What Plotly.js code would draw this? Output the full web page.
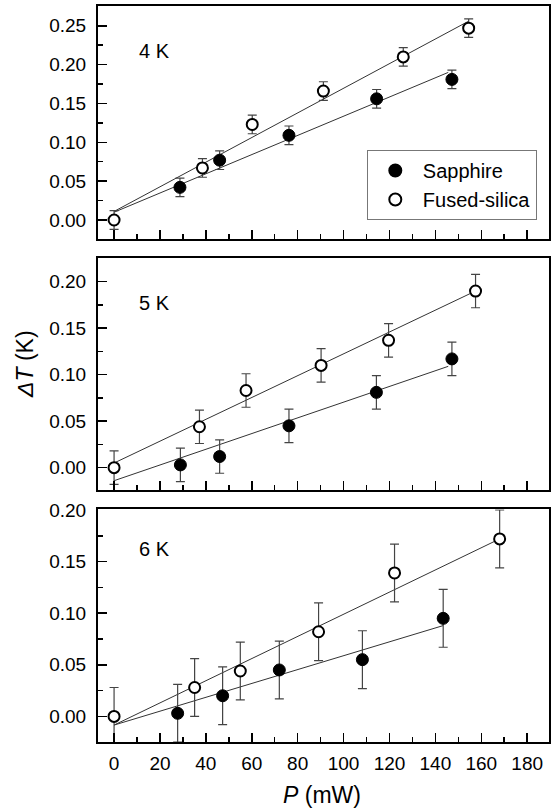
<!DOCTYPE html>
<html>
<head>
<meta charset="utf-8">
<script src="https://cdn.plot.ly/plotly-3.0.1.min.js"></script>
<style>html,body{margin:0;padding:0;background:#fff;}#chart{width:551px;height:808px;}</style>
</head>
<body>
<div id="chart"></div>
<script>
// ---- data ----
const panelLabels = ["4 K", "5 K", "6 K"];

const P4_sapphire  = [28.7, 46.0, 76.2, 114.4, 147.2];
const dT4_sapphire = [0.042, 0.077, 0.109, 0.156, 0.181];
const err4_sapphire = [0.012, 0.012, 0.012, 0.012, 0.012];
const P4_silica  = [0, 38.5, 60.2, 91.2, 126.0, 154.5];
const dT4_silica = [0.000, 0.067, 0.123, 0.166, 0.210, 0.247];
const err4_silica = [0.012, 0.012, 0.012, 0.012, 0.012, 0.012];

const P5_sapphire  = [28.9, 46.0, 76.2, 114.3, 147.2];
const dT5_sapphire = [0.003, 0.012, 0.045, 0.081, 0.117];
const err5_sapphire = [0.018, 0.018, 0.018, 0.018, 0.018];
const P5_silica  = [0, 37.2, 57.5, 90.2, 119.6, 157.5];
const dT5_silica = [0.000, 0.044, 0.083, 0.110, 0.137, 0.190];
const err5_silica = [0.018, 0.018, 0.018, 0.018, 0.018, 0.018];

const P6_sapphire  = [27.7, 47.3, 72.0, 108.2, 143.4];
const dT6_sapphire = [0.003, 0.020, 0.045, 0.055, 0.095];
const err6_sapphire = [0.028, 0.028, 0.028, 0.028, 0.028];
const P6_silica  = [0, 35.1, 55.0, 89.1, 122.2, 168.0];
const dT6_silica = [0.000, 0.028, 0.044, 0.082, 0.139, 0.172];
const err6_silica = [0.028, 0.028, 0.028, 0.028, 0.028, 0.028];

// linear fits (end points)
const fit4_sapphire_P = [0, 145.6], fit4_sapphire_dT = [0.010, 0.190];
const fit4_silica_P   = [0, 154.5], fit4_silica_dT   = [0.011, 0.256];
const fit5_sapphire_P = [0, 145.6], fit5_sapphire_dT = [-0.014, 0.109];
const fit5_silica_P   = [0, 157.5], fit5_silica_dT   = [0.005, 0.190];
const fit6_sapphire_P = [0, 143.4], fit6_sapphire_dT = [-0.0084, 0.088];
const fit6_silica_P   = [0, 168.0], fit6_silica_dT   = [-0.0084, 0.172];

const xTicks = [0, 20, 40, 60, 80, 100, 120, 140, 160, 180];

// ---- build ----
const FONT = 'Arial, Liberation Sans, sans-serif';
const panels = [
  {xa:'x',  ya:'y',  sP:P4_sapphire, sT:dT4_sapphire, sE:err4_sapphire, fP:P4_silica, fT:dT4_silica, fE:err4_silica,
   fsP:fit4_sapphire_P, fsT:fit4_sapphire_dT, ffP:fit4_silica_P, ffT:fit4_silica_dT, legend:true},
  {xa:'x2', ya:'y2', sP:P5_sapphire, sT:dT5_sapphire, sE:err5_sapphire, fP:P5_silica, fT:dT5_silica, fE:err5_silica,
   fsP:fit5_sapphire_P, fsT:fit5_sapphire_dT, ffP:fit5_silica_P, ffT:fit5_silica_dT, legend:false},
  {xa:'x3', ya:'y3', sP:P6_sapphire, sT:dT6_sapphire, sE:err6_sapphire, fP:P6_silica, fT:dT6_silica, fE:err6_silica,
   fsP:fit6_sapphire_P, fsT:fit6_sapphire_dT, ffP:fit6_silica_P, ffT:fit6_silica_dT, legend:false}
];

const traces = [];
panels.forEach(p => {
  traces.push({x:p.fsP, y:p.fsT, xaxis:p.xa, yaxis:p.ya, mode:'lines', line:{color:'#333', width:1}, showlegend:false, hoverinfo:'skip'});
  traces.push({x:p.ffP, y:p.ffT, xaxis:p.xa, yaxis:p.ya, mode:'lines', line:{color:'#333', width:1}, showlegend:false, hoverinfo:'skip'});
});
panels.forEach(p => {
  traces.push({x:p.sP, y:p.sT, xaxis:p.xa, yaxis:p.ya, mode:'markers', name:'Sapphire', showlegend:p.legend,
    marker:{symbol:'circle', size:12, color:'#000', line:{color:'#000', width:1}},
    error_y:{type:'data', array:p.sE, visible:true, color:'#444', thickness:1.2, width:4.5}});
  traces.push({x:p.fP, y:p.fT, xaxis:p.xa, yaxis:p.ya, mode:'markers', name:'Fused-silica', showlegend:p.legend,
    marker:{symbol:'circle', size:11, color:'#fff', line:{color:'#000', width:2}},
    error_y:{type:'data', array:p.fE, visible:true, color:'#444', thickness:1.2, width:4.5}});
});

const xBase = {
  range:[-7, 189.5], tickvals:xTicks, ticks:'inside', ticklen:9, tickwidth:1.5, tickcolor:'#000',
  minor:{dtick:10, tick0:0, ticks:'inside', ticklen:5, tickwidth:1.5, tickcolor:'#000'},
  showline:true, mirror:true, linecolor:'#000', linewidth:2, showgrid:false, zeroline:false,
  tickfont:{family:FONT, size:19, color:'#000'}, ticklabelstandoff:3
};
const yBase = {
  ticks:'inside', ticklen:9, tickwidth:1.5, tickcolor:'#000', dtick:0.05, tick0:0, tickformat:'.2f',
  minor:{dtick:0.025, ticks:'inside', ticklen:5, tickwidth:1.5, tickcolor:'#000'},
  showline:true, mirror:true, linecolor:'#000', linewidth:2, showgrid:false, zeroline:false,
  tickfont:{family:FONT, size:19, color:'#000'}, ticklabelstandoff:6
};

const layout = {
  width:551, height:808,
  margin:{l:98, r:2, t:6, b:66},
  paper_bgcolor:'#fff', plot_bgcolor:'#fff',
  font:{family:FONT, color:'#000'},
  showlegend:true,
  legend:{x:0.596, y:0.8043, xanchor:'left', yanchor:'top', bgcolor:'#fff', bordercolor:'#777', borderwidth:1,
    font:{family:FONT, size:20, color:'#000'}, itemsizing:'constant', itemwidth:45, tracegroupgap:0},
  xaxis: Object.assign({}, xBase, {anchor:'y', showticklabels:false}),
  yaxis: Object.assign({}, yBase, {domain:[0.6834, 1], range:[-0.0245, 0.2755], anchor:'x'}),
  xaxis2: Object.assign({}, xBase, {anchor:'y2', showticklabels:false}),
  yaxis2: Object.assign({}, yBase, {domain:[0.3424, 0.6572], range:[-0.024, 0.2252], anchor:'x2'}),
  xaxis3: Object.assign({}, xBase, {anchor:'y3', showticklabels:true}),
  yaxis3: Object.assign({}, yBase, {domain:[0, 0.3162], range:[-0.0248, 0.2007], anchor:'x3'}),
  annotations:[
    {text:panelLabels[0], xref:'x', yref:'y', x:10, y:0.2175, xanchor:'left', yanchor:'middle', showarrow:false, font:{family:FONT, size:20}},
    {text:panelLabels[1], xref:'x2', yref:'y2', x:10, y:0.177, xanchor:'left', yanchor:'middle', showarrow:false, font:{family:FONT, size:20}},
    {text:panelLabels[2], xref:'x3', yref:'y3', x:10, y:0.162, xanchor:'left', yanchor:'middle', showarrow:false, font:{family:FONT, size:20}},
    {text:'<i>ΔT</i> (K)', xref:'paper', yref:'paper', x:-0.162, y:0.5136, xanchor:'center', yanchor:'middle', textangle:-90, showarrow:false, font:{family:FONT, size:23}},
    {text:'<i>P</i> (mW)', xref:'paper', yref:'paper', x:0.4967, y:-0.0720, xanchor:'center', yanchor:'middle', showarrow:false, font:{family:FONT, size:23}}
  ]
};

Plotly.newPlot('chart', traces, layout, {staticPlot:true, displayModeBar:false});
</script>
</body>
</html>
